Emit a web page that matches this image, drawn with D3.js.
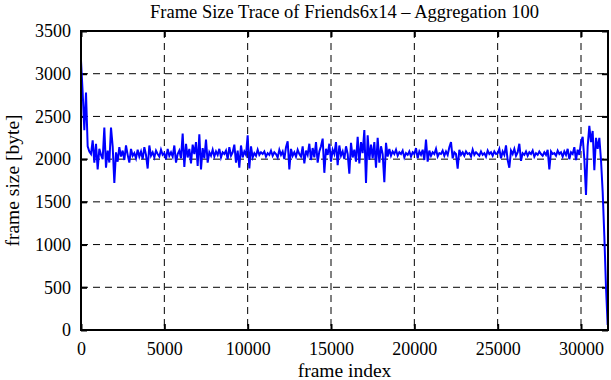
<!DOCTYPE html>
<html>
<head>
<meta charset="utf-8">
<script src="https://cdn.jsdelivr.net/npm/d3@7"></script>
<style>
  body { margin: 0; background: #fff; }
  text { font-family: "Liberation Serif", "DejaVu Serif", serif; fill: #000; }
</style>
</head>
<body>
<svg id="chart" width="611" height="380"></svg>
<script>
// aggregated frame size, one value per 100 frames
var frameSizes = [
  3150, 2780, 2340, 2780, 2150, 2090, 2060, 2220, 1960, 2180,
  1880, 2120, 2050, 2000, 2370, 1900, 2100, 1960, 2370, 2150,
  1720, 2080, 1970, 2140, 2030, 2100, 1990, 2160, 2050, 1960,
  2120, 2040, 2070, 2010, 2110, 2030, 2090, 2000, 2140, 2050,
  1890, 2160, 2040, 2080, 2020, 2100, 2060, 2030, 2110, 2050,
  2070, 2000, 2120, 2040, 2080, 2030, 2160, 1960, 2060, 2100,
  2010, 2300, 1910, 2180, 2020, 2120, 1950, 2170, 2060, 2200,
  1920, 2290, 1880, 2130, 2010, 2230, 1960, 2080, 2040, 2110,
  2030, 2090, 2050, 2120, 2020, 2080, 2060, 2100, 2000, 2140,
  2040, 2080, 2170, 1960, 2100, 1900, 2160, 2020, 2090, 2050,
  2280, 1890, 2150, 2020, 2070, 2040, 2110, 2050, 2080, 2060,
  2090, 2030, 2070, 2050, 2100, 2040, 2080, 2060, 2020, 2110,
  2050, 2090, 2000, 2140, 2210, 1880, 2120, 2040, 2080, 2030,
  2110, 2060, 2030, 2150, 1950, 2100, 2050, 2180, 1990, 2130,
  2020, 2200, 1960, 2090, 2150, 2240, 1840, 2120, 2050, 2180,
  1970, 2110, 2060, 2200, 1930, 2160, 2040, 2090, 2000, 2150,
  2060, 1830, 2190, 2020, 2110, 1970, 2260, 1950, 2200, 2070,
  2340, 1720, 2280, 1990, 2170, 2010, 2200, 1900, 2250, 1960,
  2150, 2060, 1730, 2190, 2030, 2120, 2040, 2090, 2060, 2110,
  2040, 2080, 2060, 2100, 2020, 2070, 2050, 2090, 2030, 2080,
  2060, 2130, 2010, 2090, 2050, 2110, 1990, 2230, 1970, 2100,
  2040, 2080, 2060, 2120, 2030, 2070, 2060, 2100, 2040, 2090,
  2050, 2140, 2200, 2010, 2080, 2060, 1890, 2110, 2050, 2080,
  2040, 2090, 2060, 2070, 2030, 2110, 2050, 2080, 2060, 2040,
  2090, 2050, 2070, 2030, 2100, 2060, 2080, 2040, 2090, 2060,
  2070, 2120, 2010, 2090, 2050, 2160, 1990, 1900, 2100, 2060,
  2120, 2040, 2080, 2180, 1980, 2070, 2050, 2090, 2040, 2080,
  2060, 2100, 2030, 2070, 2050, 2090, 2060, 2040, 2080, 2050,
  2110, 1880, 2090, 2060, 2070, 2040, 2100, 2060, 2080, 2030,
  2090, 2050, 2120, 2000, 2080, 2060, 2140, 1990, 2110, 2050,
  2200, 2260, 2000, 1580, 2150, 2390, 2200, 2330, 1870, 2250,
  2120, 2250, 1990, 1620, 1100, 500, 60
];
var aggregation = 100;
var xTicks = [0, 5000, 10000, 15000, 20000, 25000, 30000];
var yTicks = [0, 500, 1000, 1500, 2000, 2500, 3000, 3500];
var xMax = 31620, yMax = 3500;

var titleText = "Frame Size Trace of Friends6x14 \u2013 Aggregation 100";
var xLabel = "frame index";
var yLabel = "frame size [byte]";

var svg = d3.select("#chart");
var margin = {top: 31, right: 3, bottom: 50, left: 81};
var width = +svg.attr("width") - margin.left - margin.right;
var height = +svg.attr("height") - margin.top - margin.bottom;

var g = svg.append("g").attr("transform", "translate(" + margin.left + "," + margin.top + ")");

var x = d3.scaleLinear().domain([0, xMax]).range([0, width]);
var y = d3.scaleLinear().domain([0, yMax]).range([height, 0]);

// dashed grid
g.selectAll(".vgrid").data(xTicks.filter(function(d) { return d > 0; }))
  .enter().append("line")
  .attr("x1", function(d) { return x(d); }).attr("x2", function(d) { return x(d); })
  .attr("y1", 0).attr("y2", height)
  .attr("stroke", "#000").attr("stroke-width", 1).attr("stroke-dasharray", "7,5");

g.selectAll(".hgrid").data(yTicks.filter(function(d) { return d > 0 && d < yMax; }))
  .enter().append("line")
  .attr("x1", 0).attr("x2", width)
  .attr("y1", function(d) { return y(d); }).attr("y2", function(d) { return y(d); })
  .attr("stroke", "#000").attr("stroke-width", 1).attr("stroke-dasharray", "7,5");

// axes with inward ticks, mirrored on top / right
function styleAxis(sel) {
  sel.select(".domain").remove();
  sel.selectAll(".tick line").attr("stroke", "#000").attr("stroke-width", 2);
  sel.selectAll(".tick text").style("font-size", "18px").style("font-family", "Liberation Serif");
}

g.append("g").attr("transform", "translate(0," + height + ")")
  .call(d3.axisBottom(x).tickValues(xTicks).tickFormat(d3.format("d")).tickSizeInner(-6).tickSizeOuter(0).tickPadding(12))
  .call(styleAxis);
g.append("g")
  .call(d3.axisTop(x).tickValues(xTicks).tickFormat("").tickSizeInner(-6).tickSizeOuter(0))
  .call(styleAxis);
g.append("g")
  .call(d3.axisLeft(y).tickValues(yTicks).tickFormat(d3.format("d")).tickSizeInner(-6).tickSizeOuter(0).tickPadding(10))
  .call(styleAxis);
g.append("g").attr("transform", "translate(" + width + ",0)")
  .call(d3.axisRight(y).tickValues(yTicks).tickFormat("").tickSizeInner(-6).tickSizeOuter(0))
  .call(styleAxis);

// data line
var line = d3.line()
  .x(function(d, i) { return x(i * aggregation); })
  .y(function(d) { return y(d); });

g.append("path").datum(frameSizes)
  .attr("d", line)
  .attr("fill", "none")
  .attr("stroke", "#0000ff")
  .attr("stroke-width", 2);

// border
g.append("rect").attr("width", width).attr("height", height)
  .attr("fill", "none").attr("stroke", "#000").attr("stroke-width", 2);

svg.append("text").attr("x", margin.left + width / 2).attr("y", 18)
  .attr("text-anchor", "middle").style("font-size", "18.5px").text(titleText);
svg.append("text").attr("x", margin.left + width / 2).attr("y", 377)
  .attr("text-anchor", "middle").style("font-size", "19.5px").text(xLabel);
svg.append("text").attr("transform", "translate(19," + (margin.top + height / 2) + ") rotate(-90)")
  .attr("text-anchor", "middle").style("font-size", "19.5px").text(yLabel);
</script>
</body>
</html>
